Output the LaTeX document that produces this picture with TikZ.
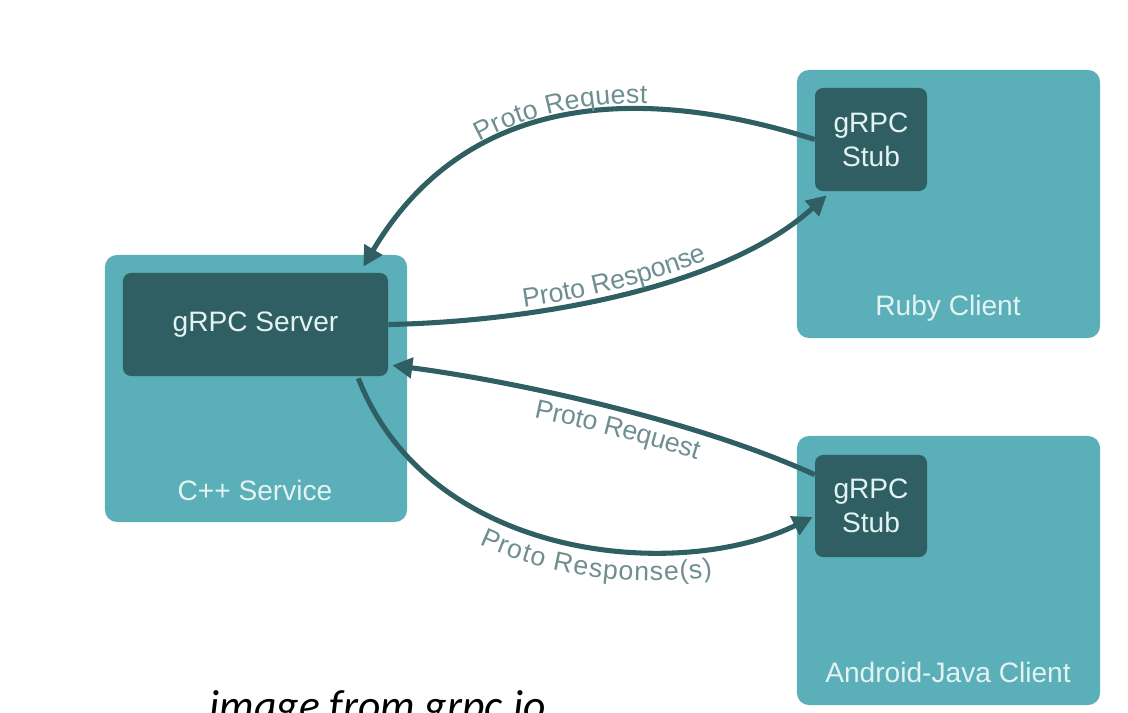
\documentclass[tikz,border=0pt]{standalone}
\usepackage{fontspec}
\setmainfont{Liberation Sans}
\newfontfamily\capfont{Carlito}
\usetikzlibrary{arrows.meta, calc, decorations.text}
\definecolor{tealbox}{HTML}{5AAFB8}
\definecolor{tealdark}{HTML}{2F5F62}
\definecolor{boxtext}{HTML}{E2F3F2}
\definecolor{msggray}{HTML}{6F8E90}
\newcommand{\msgfont}{\fontsize{19}{21}\selectfont\color{msggray}}

\begin{document}
\begin{tikzpicture}[x=0.025cm, y=0.025cm,
        outerbox/.style={fill=tealbox, rounded corners=0.3cm, inner sep=0pt},
        innerbox/.style={fill=tealdark, rounded corners=0.2cm, text=boxtext, align=center, font=\fontsize{20}{24}\selectfont},
        boxlabel/.style={text=boxtext, font=\fontsize{20}{23}\selectfont},
        msg/.style={draw=tealdark, line width=3.6pt},
        msgto/.style={msg, -{Triangle[length=0.5cm, width=0.5cm]}},
        msgfrom/.style={msg, {Triangle[length=0.5cm, width=0.5cm]}-}]
            \clip (0, 0) rectangle (1128, 712);

            % C++ side
            \node[outerbox, minimum width=7.55cm, minimum height=6.675cm] at (256, 323.5) (svc) {};
            \node[innerbox, minimum width=6.625cm, minimum height=2.575cm] at (255.5, 387.5) (srv) {gRPC Server};
            \node[boxlabel] at (255, 222) (svclbl) {C++ Service};

            % clients
            \node[outerbox, minimum width=7.575cm, minimum height=6.7cm] at (948.5, 508) (ruby) {};
            \node[innerbox, minimum width=2.8cm, minimum height=2.575cm] at (871, 572.5) (stubA) {gRPC\\Stub};
            \node[boxlabel] at (948, 404) (rubylbl) {Ruby Client};

            \node[outerbox, minimum width=7.575cm, minimum height=6.725cm] at (948.5, 141.5) (android) {};
            \node[innerbox, minimum width=2.8cm, minimum height=2.55cm] at (871, 206) (stubB) {gRPC\\Stub};
            \node[boxlabel] at (948, 40) (androidlbl) {Android-Java Client};

            % messages
            \draw[msgfrom, postaction={decorate, decoration={text along path, text={|\msgfont|Proto Request}, text align=center, raise=0.15cm}}]
                ($(srv.north east)+(-25, 6)$) .. controls (470, 625) and (650, 625) .. (stubA.west);
            \draw[msgto, postaction={decorate, decoration={text along path, text={|\msgfont|Proto Response}, text align=center, raise=0.15cm}}]
                (srv.east) .. controls (520, 390) and (720, 420) .. ($(stubA.south west)+(12, -4)$);
            \draw[msgfrom, postaction={decorate, decoration={text along path, text={|\msgfont|Proto Request}, text align={align=center, left indent=0.8cm}, raise=-0.68cm}}]
                ($(srv.south east)+(4, 11)$) .. controls (520, 330) and (700, 290) .. ($(stubB.north west)+(0, -20)$);
            \draw[msgto, postaction={decorate, decoration={text along path, text={|\msgfont|Proto Response(s)}, text align={align=center, left indent=2.2cm}, raise=-0.75cm}}]
                ($(srv.south east)+(-30, -2)$) .. controls (430, 150) and (680, 130) .. ($(stubB.west)+(-2, -11)$);

            \node[anchor=base, font=\capfont\itshape\fontsize{31}{35}\selectfont] at (378, -8) (credit) {image from grpc.io};
        \end{tikzpicture}
\end{document}
